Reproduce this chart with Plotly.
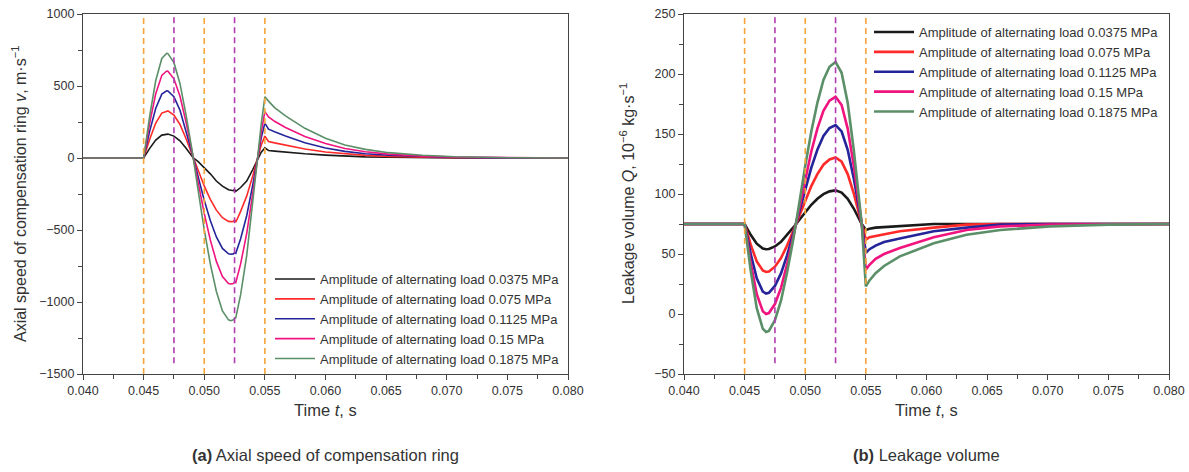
import plotly.graph_objects as go

# ---------------- data: panel (a) axial speed ----------------
t_a = [0.040, 0.045, 0.0455, 0.046, 0.0465, 0.0469, 0.047, 0.0475, 0.048, 0.0485,
       0.049, 0.0491, 0.0495, 0.050, 0.0505, 0.051, 0.0515, 0.052, 0.0522, 0.0524,
       0.0525, 0.0526, 0.053, 0.0535, 0.054, 0.0544, 0.0547, 0.055, 0.0553, 0.0558,
       0.0567, 0.0583, 0.060, 0.0616, 0.0633, 0.0652, 0.068, 0.0707, 0.075, 0.080]

v_0375 = [0, 0, 67, 124, 159, 167, 166, 152, 119, 68,
          12, 0, -25, -65, -110, -160, -195, -220, -225, -227,
          -219, -231, -205, -160, -80, -5, 40, 70, 52, 48,
          40, 29, 20, 13, 8, 5, 2, 1, 0, 0]
v_075 = [0, 0, 131, 243, 312, 328, 327, 298, 233, 134,
         23, 0, -88, -194, -287, -362, -415, -440, -442, -441,
         -430, -446, -371, -265, -124, 0, 90, 152, 115, 105,
         88, 62, 42, 28, 18, 11, 5, 2, 0, 0]
v_1125 = [0, 0, 187, 346, 444, 467, 466, 425, 332, 191,
          33, 0, -134, -294, -434, -548, -628, -665, -668, -666,
          -658, -662, -561, -401, -187, 0, 140, 242, 200, 182,
          152, 106, 70, 46, 30, 19, 9, 4, 1, 0]
v_15 = [0, 0, 242, 447, 574, 604, 602, 550, 429, 248,
        42, 0, -175, -385, -569, -718, -823, -871, -875, -872,
        -862, -866, -735, -525, -245, 0, 180, 322, 285, 255,
        212, 150, 100, 66, 43, 27, 13, 6, 1, 0]
v_1875 = [0, 0, 291, 538, 691, 727, 725, 662, 516, 298,
          51, 0, -226, -497, -735, -927, -1062, -1124, -1130, -1124,
          -1112, -1110, -949, -678, -316, 0, 237, 425, 395, 350,
          292, 206, 137, 90, 60, 37, 19, 9, 2, 0]

# ---------------- data: panel (b) leakage volume ----------------
t_b = [0.040, 0.045, 0.0455, 0.046, 0.0465, 0.04677, 0.047, 0.0475, 0.048, 0.0485,
       0.049, 0.04924, 0.0495, 0.050, 0.0505, 0.051, 0.0515, 0.052, 0.0525, 0.053,
       0.0535, 0.054, 0.0545, 0.05466, 0.055, 0.0553, 0.0558, 0.0565, 0.0578, 0.0606,
       0.0633, 0.0661, 0.0702, 0.075, 0.080]

q_0375 = [75, 75, 66, 58.6, 54.6, 54, 54.2, 56.3, 60.1, 65.6,
          71.9, 75, 78.5, 85.1, 91, 96, 99.9, 102.2, 103, 101.2,
          96, 87.9, 78.4, 75, 70, 71, 72, 72.5, 73, 75,
          75, 75, 75, 75, 75]
q_075 = [75, 75, 57.8, 43.8, 36.2, 35, 35.4, 39.4, 46.6, 57,
         69, 75, 81.9, 95, 106.6, 116.6, 124.4, 128.8, 130.5, 126.9,
         116.6, 100.5, 81.7, 75, 62, 64, 65, 67, 69, 72,
         74.5, 75, 75, 75, 75]
q_1125 = [75, 75, 50.1, 29.8, 18.7, 17, 17.6, 23.4, 33.8, 48.9,
          66.3, 75, 85.3, 104.7, 122, 136.9, 148.4, 155, 157.5, 152.1,
          136.9, 113, 84.9, 75, 51, 54, 57, 60, 63, 69,
          72, 74.5, 75, 75, 75]
q_15 = [75, 75, 42.7, 16.5, 2.3, 0, 0.8, 8.3, 21.8, 41.3,
        63.8, 75, 88.3, 113.2, 135.4, 154.5, 169.3, 177.8, 181, 174.1,
        154.5, 123.8, 87.7, 75, 37, 41, 46, 50, 55, 64,
        70, 73, 74.5, 75, 75]
q_1875 = [75, 75, 36.3, 4.8, -12.3, -15, -14.1, -5.1, 11.1, 34.5,
          61.5, 75, 91.9, 123.6, 152, 176, 195, 206, 210, 201,
          176, 137, 91, 75, 23, 28, 34, 40, 48, 59,
          66, 70, 73, 74.5, 75]

series_names = ["Amplitude of alternating load 0.0375 MPa",
                "Amplitude of alternating load 0.075 MPa",
                "Amplitude of alternating load 0.1125 MPa",
                "Amplitude of alternating load 0.15 MPa",
                "Amplitude of alternating load 0.1875 MPa"]
series_colors = ["#1a1a1a", "#ff2a2a", "#25259a", "#f0147f", "#5b8f68"]

orange_lines = [0.045, 0.050, 0.055]
purple_lines = [0.0475, 0.0525]

x_ticks = [0.040, 0.045, 0.050, 0.055, 0.060, 0.065, 0.070, 0.075, 0.080]

W, H = 1189, 472
FONT = "Liberation Sans, Arial, sans-serif"
TXT = "#333333"

fig = go.Figure()

a_vals = [v_0375, v_075, v_1125, v_15, v_1875]
b_vals = [q_0375, q_075, q_1125, q_15, q_1875]

for name, col, vals in zip(series_names, series_colors, a_vals):
    fig.add_trace(go.Scatter(x=t_a, y=vals, mode="lines", name=name,
                             line=dict(color=col, width=1.6),
                             xaxis="x", yaxis="y", legend="legend"))
for name, col, vals in zip(series_names, series_colors, b_vals):
    fig.add_trace(go.Scatter(x=t_b, y=vals, mode="lines", name=name,
                             line=dict(color=col, width=2.6),
                             xaxis="x2", yaxis="y2", legend="legend2"))

def px_x(p):
    return p / W

def px_y(p):
    return (H - p) / H

dom_a = [px_x(83), px_x(568)]
dom_b = [px_x(684), px_x(1169)]
dom_y = [px_y(374), px_y(14)]

axis_common = dict(showline=True, linecolor="#444444", linewidth=1.3, mirror=True,
                   ticks="outside", ticklen=5, tickcolor="#444444", tickwidth=1.2,
                   showgrid=False, zeroline=False, automargin=False,
                   tickfont=dict(family=FONT, size=12.5, color=TXT))

fig.update_layout(
    width=W, height=H,
    margin=dict(l=0, r=0, t=0, b=0, autoexpand=False),
    paper_bgcolor="white", plot_bgcolor="white",
    font=dict(family=FONT, color=TXT),
    xaxis=dict(domain=dom_a, range=[0.040, 0.080], tickvals=x_ticks, tickformat=".3f",
               minor=dict(dtick=0.0025, ticks="outside", ticklen=4, tickcolor="#444444"),
               anchor="y", **axis_common),
    yaxis=dict(domain=dom_y, range=[-1500, 1000], dtick=500,
               minor=dict(dtick=250, ticks="outside", ticklen=4, tickcolor="#444444"),
               anchor="x", **axis_common),
    xaxis2=dict(domain=dom_b, range=[0.040, 0.080], tickvals=x_ticks, tickformat=".3f",
                minor=dict(dtick=0.0025, ticks="outside", ticklen=4, tickcolor="#444444"),
                anchor="y2", **axis_common),
    yaxis2=dict(domain=dom_y, range=[-50, 250], dtick=50,
                minor=dict(dtick=25, ticks="outside", ticklen=4, tickcolor="#444444"),
                anchor="x2", **axis_common),
    legend=dict(x=px_x(270), y=px_y(264), xanchor="left", yanchor="top",
                bgcolor="rgba(0,0,0,0)", font=dict(family=FONT, size=13, color=TXT),
                tracegroupgap=0, itemwidth=40),
    legend2=dict(x=px_x(869), y=px_y(17), xanchor="left", yanchor="top",
                 bgcolor="rgba(0,0,0,0)", font=dict(family=FONT, size=13, color=TXT),
                 tracegroupgap=0, itemwidth=40),
    showlegend=True,
)

# vertical dashed reference lines
for xr, yr in (("x", "y domain"), ("x2", "y2 domain")):
    for xv in orange_lines:
        fig.add_shape(type="line", xref=xr, yref=yr, x0=xv, x1=xv, y0=0, y1=1,
                      line=dict(color="#f5a43a", width=1.6, dash="6px,4px"))
    for xv in purple_lines:
        fig.add_shape(type="line", xref=xr, yref=yr, x0=xv, x1=xv, y0=0.03, y1=1,
                      line=dict(color="#b03cb0", width=1.6, dash="6px,4px"))

ann = []
def add_text(text, cx, cy, size, angle=0):
    ann.append(dict(text=text, x=px_x(cx), y=px_y(cy), xref="paper", yref="paper",
                    xanchor="center", yanchor="middle", textangle=angle,
                    showarrow=False, font=dict(family=FONT, size=size, color=TXT)))

add_text("Axial speed of compensation ring <i>v</i>, m·s<sup>−1</sup>", 19, 194, 16, -90)
add_text("Leakage volume <i>Q</i>, 10<sup>−6</sup> kg·s<sup>−1</sup>", 627, 194, 16, -90)
add_text("Time <i>t</i>, s", 325.5, 410, 16.5)
add_text("Time <i>t</i>, s", 926.5, 410, 16.5)
add_text("<b>(a)</b> Axial speed of compensation ring", 325.5, 455, 16.5)
add_text("<b>(b)</b> Leakage volume", 926.5, 455, 16.5)
fig.update_layout(annotations=ann)

fig.write_html("out.html")
